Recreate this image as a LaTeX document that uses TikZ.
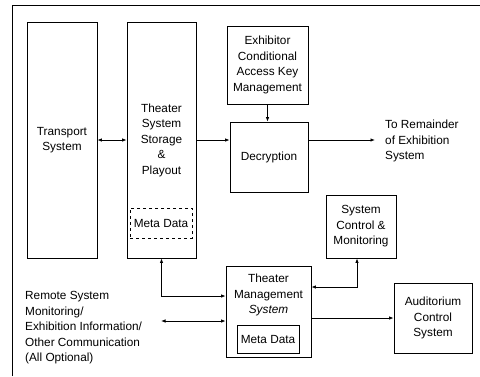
\documentclass[tikz,border=0pt]{standalone}
\usepackage{fontspec}
\setmainfont{Liberation Sans}
\usetikzlibrary{arrows.meta}
\tikzset{
    blk/.style={draw, line width=0.8pt, align=center, inner sep=1pt},
    meta/.style={draw, line width=0.5pt, dashed, minimum width=62pt, minimum height=30pt, inner sep=1pt},
    txt/.style={align=left, inner sep=0pt, anchor=west},
    link/.style={line width=0.8pt, >={Latex[length=4.5pt,width=3.5pt]}}
}
\begin{document}
\begin{tikzpicture}[x=1pt, y=-1pt, font=\fontsize{11.8}{15.5}\selectfont]
    \useasboundingbox (0,0) rectangle (480,376);
    % Frame
    \draw[line width=0.8pt] (12,376) -- (12,5) -- (480,5);

    % Storage side
    \node[blk, minimum width=70pt, minimum height=236pt] (transport) at (62,140) {Transport\\System};
    \node[blk, minimum width=69pt, minimum height=236pt] (storage) at (161.5,140) {Theater\\System\\Storage\\\&\\Playout};
    \node[meta] (metaA) at (161,223) {Meta Data};

    % Key management and decryption
    \node[blk, minimum width=81pt, minimum height=78pt] (keymgmt) at (267.5,65) {Exhibitor\\Conditional\\Access Key\\Management};
    \node[blk, minimum width=78pt, minimum height=70pt] (decrypt) at (269,157) {Decryption};
    \node[txt] (remainder) at (385,141) {To Remainder\\of Exhibition\\System};

    % Management side
    \node[blk, minimum width=70pt, minimum height=63pt] (sysctrl) at (361,226.5) {System\\Control \&\\Monitoring};
    \node[blk, minimum width=85pt, minimum height=91pt] (tms) at (268.5,311.5) {};
    \node[align=center, inner sep=0pt] (tmslabel) at (268.5,295) {Theater\\Management\\\textit{System}};
    \node[meta, solid, minimum height=28pt] (metaB) at (268,339) {Meta Data};
    \node[blk, minimum width=78pt, minimum height=70pt] (audit) at (433,318) {Auditorium\\Control\\System};
    \node[txt] (remote) at (25,328) {Remote System\\Monitoring/\\Exhibition Information/\\Other Communication\\(All Optional)};
    \coordinate (remoteend) at (161,321);

    % Connectors
    \draw[link, <->] (transport.east) -- (storage.west);
    \draw[link, ->] (storage.east) -- (storage.east -| decrypt.west);
    \draw[link, ->] (keymgmt.south) -- (keymgmt.south |- decrypt.north);
    \draw[link, ->] (decrypt.east |- storage.east) -- ([xshift=-10pt]remainder.west |- storage.east);
    \draw[link, <->] (storage.south) |- ([yshift=15.5pt]tms.west);
    \draw[link, <->] (remoteend) -- (remoteend -| tms.west);
    \draw[link, <->] ([yshift=24.5pt]tms.east) -| ([xshift=-4pt]sysctrl.south);
    \draw[link, ->] (tms.east |- audit.west) -- (audit.west);
\end{tikzpicture}
\end{document}
